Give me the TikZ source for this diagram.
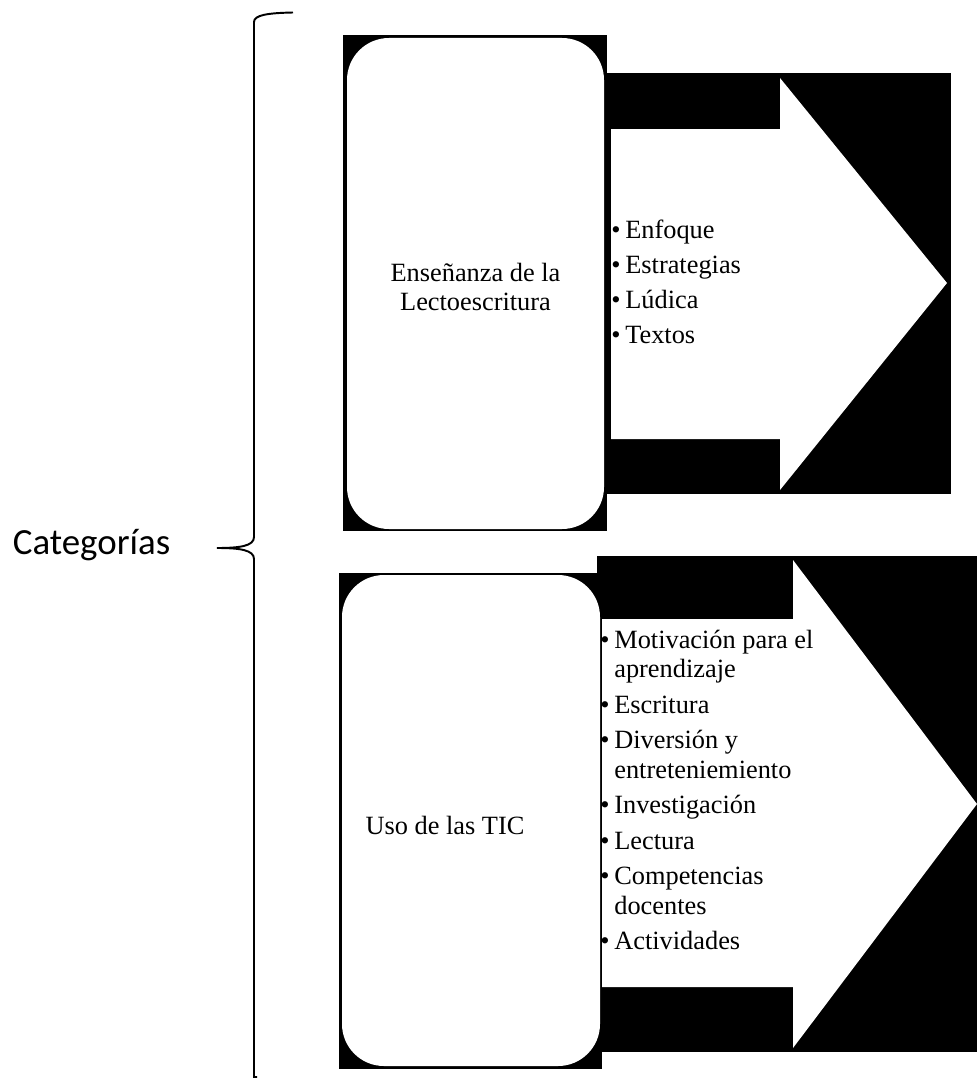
\documentclass[tikz,border=0pt]{standalone}
\usepackage{fontspec}
\setmainfont{Liberation Serif}
\newfontfamily\calibrifont{Carlito}
\usepackage{tikz}
\usetikzlibrary{positioning}

\begin{document}
\begin{tikzpicture}[x=0.02cm, y=-0.02cm,
		backing/.style={fill=black},
		card/.style={fill=white, rounded corners=0.84cm},
		arrowbody/.style={fill=white},
		title/.style={font=\fontsize{15}{16}\selectfont, align=center, inner sep=0pt},
		items/.style={font=\fontsize{15}{16.8}\selectfont, inner sep=0pt, anchor=base west},
		brace/.style={draw=black, line width=1.1pt}
	]
	\useasboundingbox (0,0) rectangle (977,1078);

	% Brace and label
	\node[font=\calibrifont\fontsize{21}{24}\selectfont, anchor=base, inner sep=0pt] (cat) at (91.5,554) {Categorías};
	\draw[brace] (293,12.5) .. controls (268,13) and (254,15) .. (254,22) -- (254,537)
		.. controls (254,546) and (240,548) .. (217,548)
		.. controls (240,548) and (254,550) .. (254,559) -- (254,1077) -- (257,1077);

	% Category 1: Lectoescritura
	\begin{scope}[local bounding box=c1]
		\fill[backing] (343,35) rectangle (607,531);
		\fill[backing] (607,73) rectangle (951,494);
		\fill[card] (347,38) rectangle (604,529);
		\fill[arrowbody] (611,129) -- (780,129) -- (780,78) -- (947,283) -- (780,490) -- (780,439) -- (611,439) -- cycle;
		\node[title] (ens) at (475.5,287) {Enseñanza de la\\Lectoescritura};
		\node[items] (ensitems) at (611,238) {\begin{tabular}[t]{@{}l@{\hspace{2.7pt}}l@{}}
			\textbullet & Enfoque\\[3.3pt]
			\textbullet & Estrategias\\[3.3pt]
			\textbullet & Lúdica\\[3.3pt]
			\textbullet & Textos
		\end{tabular}};
	\end{scope}

	% Category 2: TIC
	\begin{scope}[local bounding box=c2]
		\fill[backing] (597,556) rectangle (977,1052);
		\fill[backing] (339,573) rectangle (602,1069);
		\fill[card] (342,575) rectangle (600,1066);
		\fill[arrowbody] (602,619) -- (793,619) -- (793,560) -- (977,804) -- (793,1048) -- (793,987) -- (602,987) -- cycle;
		\node[title] (uso) at (445,825) {Uso de las TIC};
		\node[items] (usoitems) at (600,648) {\begin{tabular}[t]{@{}l@{\hspace{2.7pt}}l@{}}
			\textbullet & Motivación para el\\
			 & aprendizaje\\[3.4pt]
			\textbullet & Escritura\\[3.4pt]
			\textbullet & Diversión y\\
			 & entreteniemiento\\[3.4pt]
			\textbullet & Investigación\\[3.4pt]
			\textbullet & Lectura\\[3.4pt]
			\textbullet & Competencias\\
			 & docentes\\[3.4pt]
			\textbullet & Actividades
		\end{tabular}};
	\end{scope}
\end{tikzpicture}
\end{document}
